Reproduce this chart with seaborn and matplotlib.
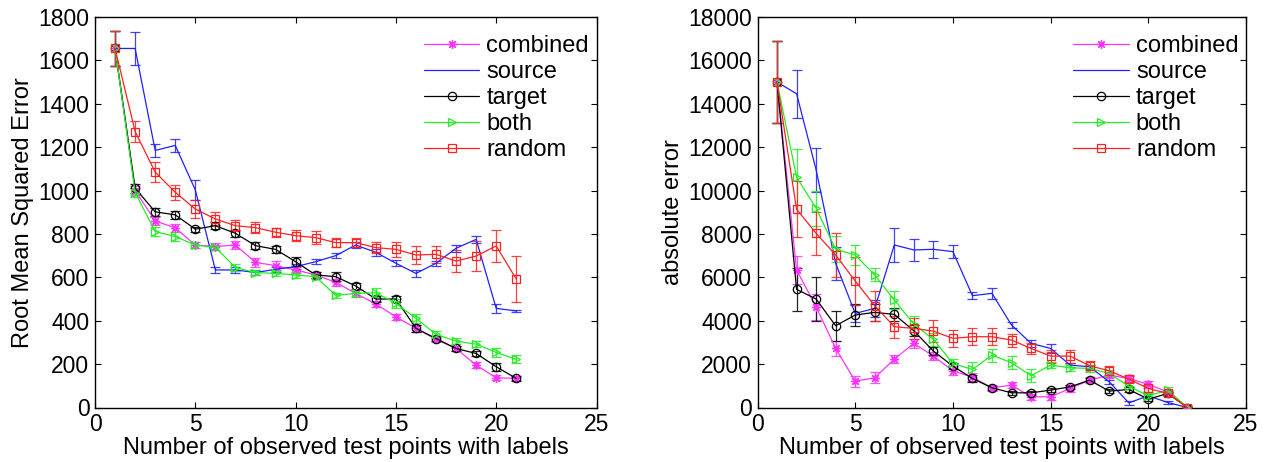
import numpy as np
import pandas as pd
import matplotlib
matplotlib.use("Agg")
import matplotlib.pyplot as plt
import seaborn as sns

# ---------------- data ----------------
series_names = ["combined", "source", "target", "both", "random"]

x_left = list(range(1, 22))
rmse_combined = [1655, 1000, 860, 828, 749, 742, 749, 669, 654, 634, 611, 577, 526, 477, 418, 365, 314, 272, 195, 137, 134]
rmse_source = [1655, 1655, 1185, 1208, 1003, 634, 634, 622, 637, 649, 672, 700, 749, 715, 665, 618, 665, 734, 775, 457, 445]
rmse_target = [1655, 1011, 902, 888, 822, 838, 803, 746, 729, 672, 611, 603, 560, 500, 500, 365, 318, 272, 249, 188, 134]
rmse_both = [1655, 991, 811, 788, 749, 738, 645, 622, 618, 611, 603, 517, 526, 529, 480, 411, 337, 306, 292, 254, 222]
rmse_random = [1655, 1272, 1085, 992, 915, 869, 838, 829, 808, 792, 783, 760, 760, 737, 729, 703, 706, 675, 698, 745, 592]

err_l_combined = [80, 20, 20, 20, 15, 15, 20, 20, 20, 15, 15, 15, 15, 15, 15, 15, 12, 12, 15, 12, 8]
err_l_source = [80, 77, 30, 30, 45, 15, 15, 12, 12, 12, 12, 12, 12, 15, 15, 15, 12, 15, 15, 22, 4]
err_l_target = [80, 20, 18, 20, 12, 15, 15, 15, 15, 20, 15, 20, 15, 15, 15, 15, 12, 12, 12, 18, 10]
err_l_both = [80, 20, 20, 20, 12, 12, 15, 12, 12, 12, 12, 12, 15, 20, 20, 20, 15, 15, 15, 20, 18]
err_l_random = [80, 50, 45, 35, 40, 30, 25, 25, 20, 25, 30, 20, 20, 25, 35, 40, 40, 50, 70, 75, 105]

x_right = list(range(1, 23))
abs_combined = [15000, 6338, 4646, 2723, 1215, 1369, 2230, 2954, 2369, 1692, 1400, 908, 1031, 492, 492, 877, 1262, 1492, 1338, 1062, 723, 0]
abs_source = [15000, 14462, 10954, 6646, 4338, 4569, 7492, 7262, 7292, 7185, 5154, 5262, 3800, 2954, 2723, 1954, 1877, 1185, 215, 538, 230, 0]
abs_target = [15000, 5446, 5000, 3769, 4262, 4385, 4292, 3538, 2600, 1908, 1338, 908, 677, 677, 800, 954, 1262, 754, 831, 385, 646, 0]
abs_both = [15000, 10615, 9185, 7292, 7031, 6108, 4954, 3846, 3138, 2031, 1754, 2415, 2062, 1462, 1954, 1831, 1800, 1569, 985, 538, 800, 0]
abs_random = [15000, 9138, 8031, 7031, 5831, 4692, 3723, 3646, 3523, 3185, 3262, 3262, 3108, 2723, 2369, 2369, 1923, 1692, 1308, 877, 646, 0]

err_r_combined = [1900, 650, 600, 350, 250, 250, 200, 200, 200, 200, 200, 150, 150, 150, 150, 150, 150, 150, 150, 150, 100, 50]
err_r_source = [1900, 1100, 1000, 750, 400, 400, 800, 500, 400, 300, 150, 250, 150, 150, 200, 100, 100, 100, 100, 100, 50, 30]
err_r_target = [1900, 1000, 1000, 700, 500, 400, 300, 250, 200, 150, 150, 100, 100, 100, 100, 100, 100, 100, 100, 100, 80, 50]
err_r_both = [1900, 1300, 800, 600, 450, 300, 400, 350, 300, 200, 350, 300, 300, 300, 150, 150, 150, 150, 150, 150, 150, 50]
err_r_random = [1900, 1300, 1000, 1000, 1100, 700, 500, 500, 500, 400, 400, 400, 300, 250, 300, 300, 200, 200, 150, 150, 100, 50]

x_ticks = [0, 5, 10, 15, 20, 25]
y_ticks_left = list(range(0, 1801, 200))
y_ticks_right = list(range(0, 18001, 2000))

# ---------------- styles ----------------
colors = {"combined": "#ff33ff", "source": "#2020ff", "target": "#000000",
          "both": "#22ee22", "random": "#ff2020"}
markers = {"combined": (8, 2, 0), "source": None, "target": "o", "both": ">", "random": "s"}
msizes = {"combined": 6.5, "source": 0, "target": 6, "both": 6, "random": 5.5}

sns.set_theme(style="ticks")
plt.rcParams["font.family"] = ["Liberation Sans", "DejaVu Sans"]
plt.rcParams.update({
    "xtick.direction": "in", "ytick.direction": "in",
    "xtick.top": True, "ytick.right": True,
    "xtick.major.size": 4, "ytick.major.size": 4,
    "xtick.major.width": 0.8, "ytick.major.width": 0.8,
    "axes.linewidth": 1.0, "axes.edgecolor": "black",
    "xtick.color": "black", "ytick.color": "black",
    "text.color": "black", "axes.labelcolor": "black",
})

fig = plt.figure(figsize=(12.7, 4.62), dpi=100)
ax1 = fig.add_axes([95 / 1270, 1 - 407.5 / 462, (596.5 - 95) / 1270, (407.5 - 17) / 462])
ax2 = fig.add_axes([757.5 / 1270, 1 - 407.5 / 462, (1246 - 757.5) / 1270, (407.5 - 17) / 462])

left_data = {
    "combined": (rmse_combined, err_l_combined),
    "source": (rmse_source, err_l_source),
    "target": (rmse_target, err_l_target),
    "both": (rmse_both, err_l_both),
    "random": (rmse_random, err_l_random),
}
right_data = {
    "combined": (abs_combined, err_r_combined),
    "source": (abs_source, err_r_source),
    "target": (abs_target, err_r_target),
    "both": (abs_both, err_r_both),
    "random": (abs_random, err_r_random),
}


def draw(ax, xs, data, ylabel, yticks, ymax):
    for name in series_names:
        ys, es = data[name]
        df = pd.DataFrame({"x": xs, "y": ys})
        c = colors[name]
        ax.errorbar(xs, ys, yerr=es, fmt="none", ecolor=c, elinewidth=0.9,
                    capsize=3.5, capthick=0.9, alpha=0.85, zorder=2)
        kw = dict(color=c, linewidth=0.9, label=name, zorder=3)
        if markers[name] is not None:
            kw.update(marker=markers[name], markersize=msizes[name],
                      markeredgecolor=c, markeredgewidth=0.9,
                      markerfacecolor=("none" if name != "combined" else c))
        sns.lineplot(data=df, x="x", y="y", ax=ax, estimator=None, **kw)
    ax.set_xlim(0, 25)
    ax.set_ylim(0, ymax)
    ax.set_xticks(x_ticks)
    ax.set_yticks(yticks)
    ax.tick_params(labelsize=16.5, pad=4)
    ax.set_xlabel("Number of observed test points with labels", fontsize=17, labelpad=1)
    ax.set_ylabel(ylabel, fontsize=17, labelpad=3)
    for s in ax.spines.values():
        s.set_visible(True)
        s.set_color("black")
    ax.legend(loc="upper right", bbox_to_anchor=(1.004, 0.977), frameon=False,
              fontsize=17, handlelength=2.35, handletextpad=0.3,
              labelspacing=0.17, borderaxespad=0.0, borderpad=0.4)


draw(ax1, x_left, left_data, "Root Mean Squared Error", y_ticks_left, 1800)
draw(ax2, x_right, right_data, "absolute error", y_ticks_right, 18000)

fig.savefig("out.png", dpi=100)
